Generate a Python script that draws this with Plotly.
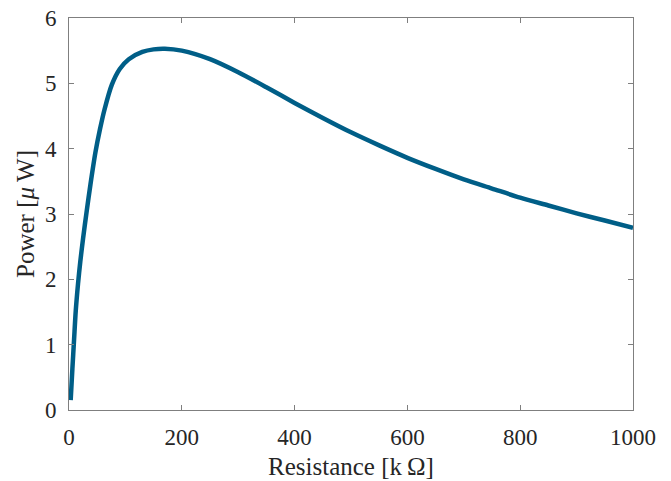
import plotly.graph_objects as go

resistance_kohm = [3, 6, 9, 12, 16, 20, 25, 31, 38, 47, 55, 63, 76, 90, 106, 130, 150, 170,
                   200, 250, 300, 350, 400, 450, 500, 550, 600, 650, 700, 750, 800, 850, 900,
                   950, 1000]
power_uw = [0.15, 0.63, 1.08, 1.52, 1.93, 2.27, 2.63, 3.02, 3.45, 3.95, 4.30, 4.60, 4.98, 5.22,
            5.37, 5.48, 5.52, 5.53, 5.50, 5.37, 5.17, 4.94, 4.70, 4.47, 4.25, 4.05, 3.86, 3.69,
            3.53, 3.39, 3.25, 3.13, 3.01, 2.90, 2.79]

x_ticks = [0, 200, 400, 600, 800, 1000]
y_ticks = [0, 1, 2, 3, 4, 5, 6]

fig = go.Figure()
fig.add_trace(go.Scatter(
    x=resistance_kohm, y=power_uw, mode="lines",
    line=dict(color="rgb(0,94,135)", width=4.5, shape="spline", smoothing=0.8),
    showlegend=False, hoverinfo="x+y",
))

axis_common = dict(
    showgrid=False, zeroline=False, showline=True, linecolor="#7f7f7f", linewidth=1,
    mirror="ticks", ticks="inside", ticklen=5, tickcolor="#7f7f7f", tickwidth=1,
    tickfont=dict(family="Liberation Serif", size=23, color="#262626"),
    automargin=False,
)

fig.update_layout(
    width=671, height=481,
    margin=dict(l=69, r=38, t=18, b=71),
    paper_bgcolor="white", plot_bgcolor="white",
    xaxis=dict(range=[0, 1000], tickvals=x_ticks, ticktext=[str(v) for v in x_ticks],
               ticklabelstandoff=6,
               title=dict(text="Resistance [k\u2009Ω]", standoff=8,
                          font=dict(family="Liberation Serif", size=25, color="#262626")),
               **axis_common),
    yaxis=dict(range=[0, 6], tickvals=y_ticks, ticktext=[str(v) for v in y_ticks],
               ticklabelstandoff=7,
               title=dict(text="Power [<i>μ</i>\u2009W]", standoff=3,
                          font=dict(family="Liberation Serif", size=25, color="#262626")),
               **axis_common),
)

fig.write_html("out.html")
